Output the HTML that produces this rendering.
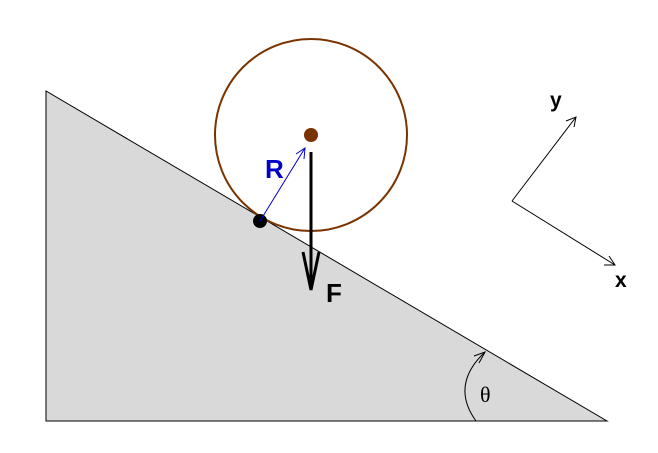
<!DOCTYPE html>
<html><head><style>body{margin:0;background:#fff}svg{display:block}</style></head><body>
<svg width="658" height="453" viewBox="0 0 658 453" xmlns="http://www.w3.org/2000/svg">
<polygon points="46,91 46,421 607,421" fill="#d9d9d9" stroke="#000" stroke-width="1"/>
<circle cx="311" cy="135" r="96" fill="none" stroke="#7a3300" stroke-width="2"/>
<circle cx="311" cy="135" r="7" fill="#7a3300"/>
<circle cx="260" cy="221" r="7" fill="#000"/>
<line x1="260" y1="221" x2="305" y2="148" stroke="#0000cc" stroke-width="1"/>
<polyline points="296,154 305,148 304,159" fill="none" stroke="#0000cc" stroke-width="1"/>
<text x="265" y="178" font-family="Liberation Sans, sans-serif" font-weight="bold" font-size="26" fill="#0000cc">R</text>
<line x1="311" y1="152" x2="311" y2="288" stroke="#000" stroke-width="3"/>
<polyline points="303,252 311,290 319,252" fill="none" stroke="#000" stroke-width="3"/>
<text x="326" y="302" font-family="Liberation Sans, sans-serif" font-weight="bold" font-size="26" fill="#000">F</text>
<path d="M476,421 Q450,385 485,352" fill="none" stroke="#000" stroke-width="1"/>
<polyline points="474,356 485,352 479,363" fill="none" stroke="#000" stroke-width="1"/>
<text x="480" y="402" font-family="Liberation Serif, serif" font-size="22" fill="#000">θ</text>
<line x1="512" y1="201" x2="576" y2="117" stroke="#000" stroke-width="1"/>
<polyline points="566,121 576,117 574,127" fill="none" stroke="#000" stroke-width="1"/>
<line x1="512" y1="201" x2="615" y2="265" stroke="#000" stroke-width="1"/>
<polyline points="604,265 615,265 609,256" fill="none" stroke="#000" stroke-width="1"/>
<text x="550" y="107" font-family="Liberation Sans, sans-serif" font-weight="bold" font-size="21" fill="#000">y</text>
<text x="615" y="287" font-family="Liberation Sans, sans-serif" font-weight="bold" font-size="21" fill="#000">x</text>
</svg>
</body></html>
